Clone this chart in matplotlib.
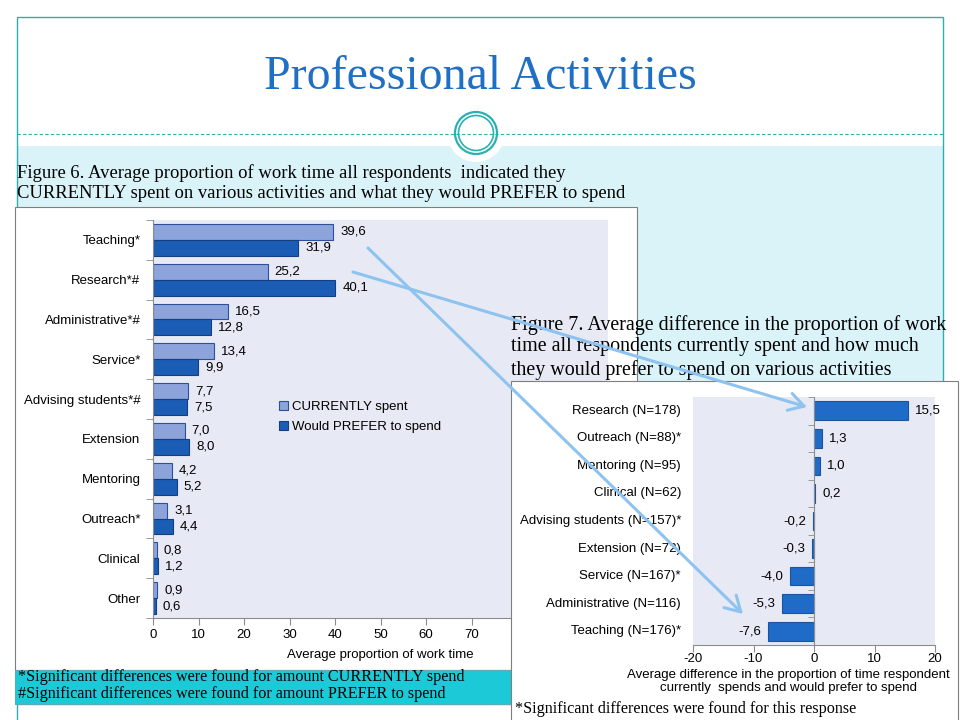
import numpy as np
import matplotlib.pyplot as plt
from matplotlib.patches import Rectangle, Circle

plt.rcParams["font.family"] = ["Liberation Sans", "DejaVu Sans"]
plt.rcParams["axes.unicode_minus"] = False

W, H = 960, 720

# ── Figure 6 data ─────────────────────────────
activities = ["Teaching*", "Research*#", "Administrative*#", "Service*",
              "Advising students*#", "Extension", "Mentoring", "Outreach*",
              "Clinical", "Other"]
currently = [39.6, 25.2, 16.5, 13.4, 7.7, 7.0, 4.2, 3.1, 0.8, 0.9]
prefer = [31.9, 40.1, 12.8, 9.9, 7.5, 8.0, 5.2, 4.4, 1.2, 0.6]
fig6_xticks = [0, 10, 20, 30, 40, 50, 60, 70]

# ── Figure 7 data ─────────────────────────────
diff_labels = ["Research (N=178)", "Outreach (N=88)*", "Mentoring (N=95)",
               "Clinical (N=62)", "Advising students (N=157)*", "Extension (N=72)",
               "Service (N=167)*", "Administrative (N=116)", "Teaching (N=176)*"]
diff_values = [15.5, 1.3, 1.0, 0.2, -0.2, -0.3, -4.0, -5.3, -7.6]
fig7_xticks = [-20, -10, 0, 10, 20]

SERIF = "Liberation Serif"
TEAL = "#2BB0B2"
GRID_GREY = "#8C8C8C"
PLOT_BG = "#E7EAF4"
FS = 9.5  # chart text size


def px(x0, y0, x1, y1):
    """pixel box (top-left origin) -> figure fraction rect"""
    return [x0 / W, 1 - y1 / H, (x1 - x0) / W, (y1 - y0) / H]


def comma(v):
    return f"{v:.1f}".replace(".", ",")


def layer(z):
    ax = fig.add_axes([0, 0, 1, 1], zorder=z)
    ax.set_xlim(0, W)
    ax.set_ylim(H, 0)
    ax.axis("off")
    return ax


fig = plt.figure(figsize=(9.6, 7.2), dpi=100)

# ── slide background ──────────────────────────
bg = layer(0)
bg.add_patch(Rectangle((17, 146), 926, 560, fc="#DAF3F8", ec="none"))
bg.add_patch(Rectangle((17, 17), 926, 720, fc="none", ec=TEAL, lw=1))
bg.plot([17, 943], [134, 134], color=TEAL, lw=0.8, ls=(0, (3, 2)))
bg.add_patch(Circle((476, 133), 29, fc="white", ec="none"))
bg.add_patch(Circle((476, 133), 21, fc="white", ec=TEAL, lw=1.6))
bg.add_patch(Circle((476, 133), 17.5, fc="none", ec=TEAL, lw=1.2))
bg.text(480, 77, "Professional Activities", ha="center", va="center",
        fontsize=34.5, color="#1F6FC4", family=SERIF)
bg.text(17, 173, "Figure 6. Average proportion of work time all respondents  indicated they",
        ha="left", va="center", fontsize=13.4, family=SERIF)
bg.text(17, 194, "CURRENTLY spent on various activities and what they would PREFER to spend",
        ha="left", va="center", fontsize=13.4, family=SERIF)
bg.add_patch(Rectangle((15, 207), 622, 463, fc="white", ec="#7F7F7F", lw=0.8))

# ── Figure 6: current vs preferred ────────────
ax1 = fig.add_axes(px(153, 220, 608, 618), zorder=1)
ax1.set_facecolor(PLOT_BG)
y = np.arange(len(activities))
h = 0.4
b1 = ax1.barh(y - h / 2, currently, height=h, color="#8CA4DA", edgecolor="#2D4F9C",
              lw=0.8, label="CURRENTLY spent")
b2 = ax1.barh(y + h / 2, prefer, height=h, color="#1B5CB5", edgecolor="#163F80",
              lw=0.8, label="Would PREFER to spend")
ax1.bar_label(b1, labels=[comma(v) for v in currently], padding=5, fontsize=FS)
ax1.bar_label(b2, labels=[comma(v) for v in prefer], padding=5, fontsize=FS)
ax1.set_xlim(0, 100)
ax1.set_ylim(len(activities) - 0.5, -0.5)
ax1.set_xticks(fig6_xticks)
ax1.set_yticks(y, activities)
ax1.set_yticks(np.arange(len(activities) + 1) - 0.5, minor=True)
ax1.tick_params(axis="y", which="major", length=0, pad=9, labelsize=FS)
ax1.tick_params(axis="y", which="minor", length=5, color=GRID_GREY)
ax1.tick_params(axis="x", length=5, color=GRID_GREY, labelsize=FS, pad=3)
for s in ["top", "right"]:
    ax1.spines[s].set_visible(False)
for s in ["left", "bottom"]:
    ax1.spines[s].set_color(GRID_GREY)
ax1.set_xlabel("Average proportion of work time", fontsize=FS, labelpad=6)
ax1.legend(loc="upper left", bbox_to_anchor=(0.276, 0.545), frameon=False, fontsize=FS,
           handlelength=0.7, handleheight=0.7, handletextpad=0.3, labelspacing=0.55,
           borderpad=0, borderaxespad=0)

# ── boxes between the two charts ──────────────
mid = layer(2)
mid.add_patch(Rectangle((15, 670), 496, 34, fc="#1BCAD6", ec="#5FA9B8", lw=0.8))
mid.text(18, 677, "*Significant differences were found for amount CURRENTLY spend",
         ha="left", va="center", fontsize=11.6, family=SERIF)
mid.text(18, 694, "#Significant differences were found for amount PREFER to spend",
         ha="left", va="center", fontsize=11.6, family=SERIF)
mid.add_patch(Rectangle((511, 381), 447, 350, fc="white", ec="#7F7F7F", lw=0.8))
mid.text(515, 709, "*Significant differences were found for this response",
         ha="left", va="center", fontsize=11.6, family=SERIF)

# ── Figure 7: difference ──────────────────────
ax2 = fig.add_axes(px(693, 397, 935, 645), zorder=3)
ax2.set_facecolor(PLOT_BG)
yy = np.arange(len(diff_labels))
bars = ax2.barh(yy, diff_values, height=0.68, color="#1F6BC7", edgecolor="#1A55A0", lw=0.8)
ax2.bar_label(bars, labels=[comma(v) for v in diff_values], padding=5, fontsize=FS)
ax2.set_xlim(-20, 20)
ax2.set_ylim(len(diff_labels) - 0.5, -0.5)
ax2.set_xticks(fig7_xticks)
ax2.spines["left"].set_position(("data", 0))
ax2.set_yticks(yy, [""] * len(yy))
ax2.set_yticks(np.arange(len(diff_labels) + 1) - 0.5, minor=True)
ax2.tick_params(axis="y", which="major", length=0)
ax2.tick_params(axis="y", which="minor", length=4, color=GRID_GREY)
ax2.tick_params(axis="x", length=5, color=GRID_GREY, labelsize=FS, pad=1)
for s in ["top", "right"]:
    ax2.spines[s].set_visible(False)
for s in ["left", "bottom"]:
    ax2.spines[s].set_color(GRID_GREY)
for yi, lab in zip(yy, diff_labels):
    ax2.text(-0.05, yi, lab, transform=ax2.get_yaxis_transform(), ha="right",
             va="center", fontsize=FS)
ax2.set_xlabel("Average difference in the proportion of time respondent\n"
               "currently  spends and would prefer to spend",
               fontsize=FS, linespacing=1.15)
ax2.xaxis.set_label_coords(0.395, -0.097)

# ── captions and arrows on top ────────────────
top = layer(4)
for yc, line in zip([325, 347, 370],
                    ["Figure 7. Average difference in the proportion of work",
                     "time all respondents currently spent and how much",
                     "they would prefer to spend on various activities"]):
    top.text(511, yc, line, ha="left", va="center", fontsize=14.4, family=SERIF)
arrow_kw = dict(arrowstyle="->,head_length=0.6,head_width=0.35", color="#8EC3F0",
                lw=2.2, mutation_scale=18, shrinkA=0, shrinkB=0)
top.annotate("", xy=(807, 407), xytext=(353, 272), arrowprops=arrow_kw)
top.annotate("", xy=(743, 614), xytext=(368, 248), arrowprops=arrow_kw)

fig.savefig("out.png", dpi=100)
